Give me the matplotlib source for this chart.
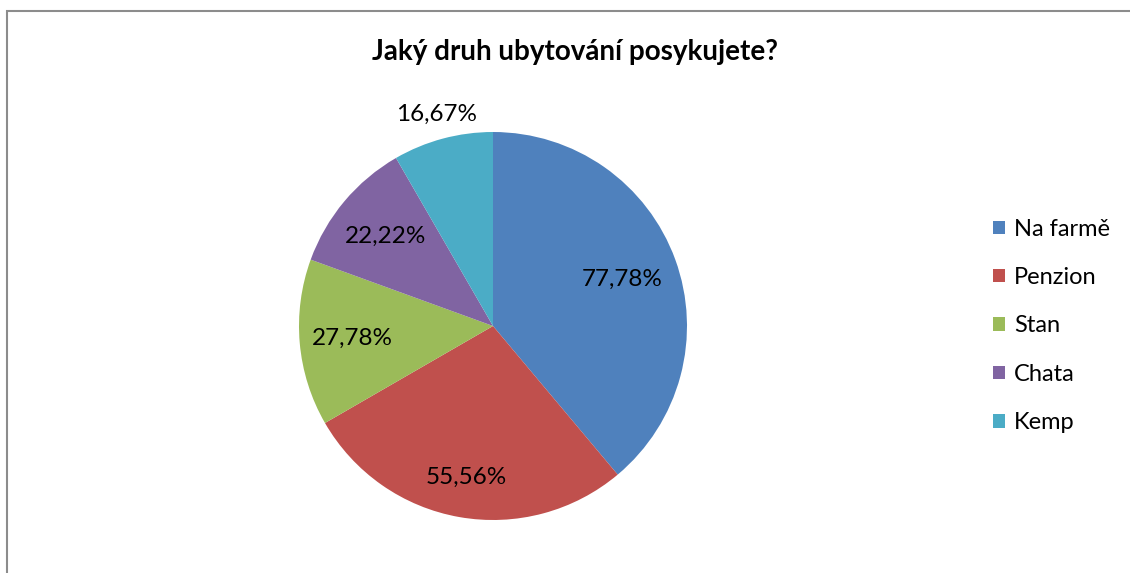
import numpy as np
import matplotlib.pyplot as plt
from matplotlib.patches import Rectangle, Patch

categories = ['Na farmě', 'Penzion', 'Stan', 'Chata', 'Kemp']
values = [77.78, 55.56, 27.78, 22.22, 16.67]
colors = ['#4F81BD', '#C0504D', '#9BBB59', '#8064A2', '#4BACC6']
# Excel "best fit" style label distances (fraction of radius)
label_dist = [0.71, 0.79, 0.73, 0.72, 1.13]

plt.rcParams['font.family'] = ['Lato', 'DejaVu Sans']

W, H = 1130, 573
fig = plt.figure(figsize=(W / 100, H / 100), dpi=100)

# chart border (cropped at right/bottom)
fig.patches.append(Rectangle((6.5 / W, -0.1), 1.2, 1 - 11 / H + 0.1, transform=fig.transFigure,
                             fill=False, edgecolor='#8c8c8c', linewidth=1.5))

cx, cy, r = 493, 326, 194
ax = fig.add_axes([(cx - r) / W, (H - cy - r) / H, 2 * r / W, 2 * r / H])
wedges, _ = ax.pie(values, colors=colors, startangle=90, counterclock=False,
                   radius=1, wedgeprops=dict(linewidth=0))
ax.set_xlim(-1, 1)
ax.set_ylim(-1, 1)
ax.set_aspect('equal')
ax.axis('off')

for w, v, d in zip(wedges, values, label_dist):
    ang = np.deg2rad((w.theta1 + w.theta2) / 2)
    ax.text(d * np.cos(ang), d * np.sin(ang), f'{v:.2f}%'.replace('.', ','),
            ha='center', va='center', fontsize=17.5, color='#000000')

fig.text(575 / W, 1 - 52 / H, 'Jaký druh ubytování posykujete?', ha='center', va='center',
         fontsize=20, fontweight='bold')

handles = [Patch(facecolor=c, edgecolor='none') for c in colors]
fig.legend(handles, categories, loc='center left', bbox_to_anchor=(981 / W, 1 - 326 / H),
           frameon=False, fontsize=17, labelspacing=1.16, handlelength=0.5,
           handleheight=0.5, handletextpad=0.4, borderpad=0)

fig.savefig('out.png', dpi=100, facecolor='white')
